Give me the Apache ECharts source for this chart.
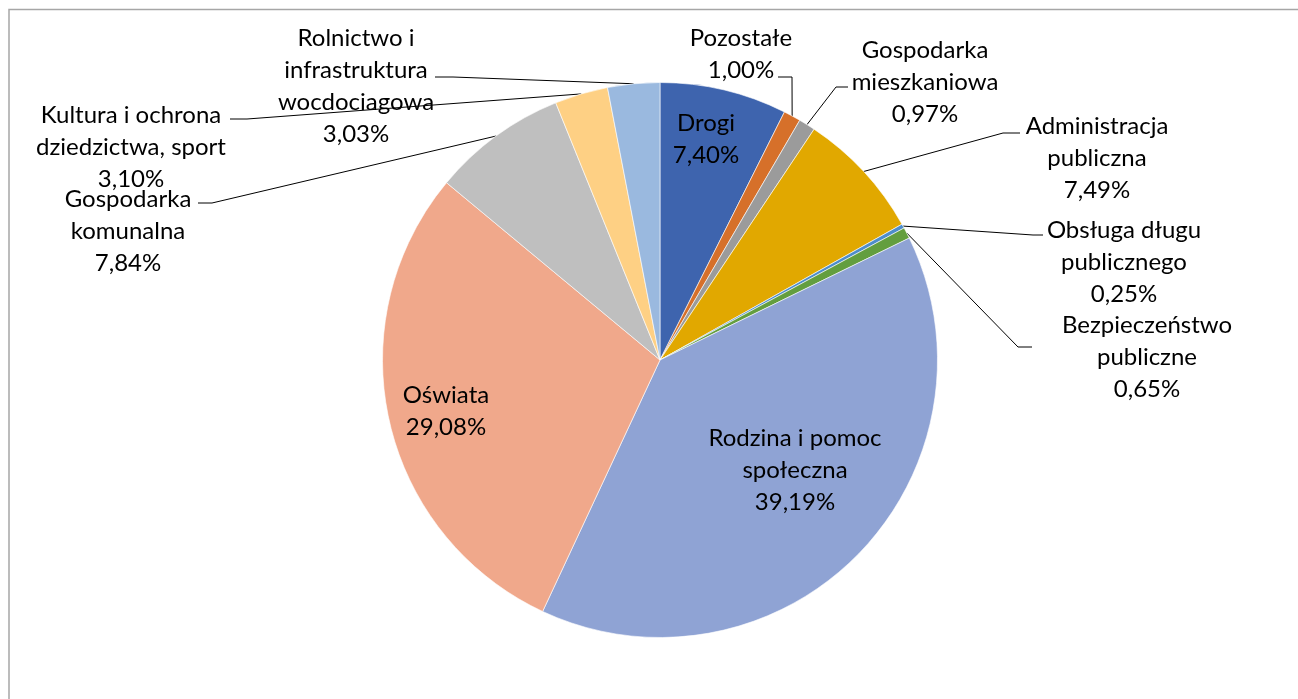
<!DOCTYPE html>
<html>
<head>
<meta charset="utf-8">
<script src="https://cdn.jsdelivr.net/npm/echarts@6/dist/echarts.min.js"></script>
<style>
  html, body { margin: 0; padding: 0; background: #fff; }
  #chart { width: 1298px; height: 699px; }
</style>
</head>
<body>
<div id="chart"></div>
<script>
// categories, clockwise from 12 o'clock
var names = [
  "Drogi",
  "Pozostałe",
  "Gospodarka\nmieszkaniowa",
  "Administracja\npubliczna",
  "Obsługa długu\npublicznego",
  "Bezpieczeństwo\npubliczne",
  "Rodzina i pomoc\nspołeczna",
  "Oświata",
  "Gospodarka\nkomunalna",
  "Kultura i ochrona\ndziedzictwa, sport",
  "Rolnictwo i\ninfrastruktura\nwocdociagowa"
];
var shares = [7.40, 1.00, 0.97, 7.49, 0.25, 0.65, 39.19, 29.08, 7.84, 3.10, 3.03];
var colors = ["#3E64AE", "#D6702A", "#9B9B9B", "#E1A800", "#4E8DCB", "#639E3F",
              "#8FA3D4", "#F0A88B", "#BFBFBF", "#FED084", "#9AB9DF"];
// labels drawn inside the slice (no leader line)
var insideLabels = ["Drogi", "Rodzina i pomoc\nspołeczna", "Oświata"];
// label centres, as placed in the original
var labelPos = [
  [706, 139], [741, 54], [925, 82], [1097, 158], [1124, 262], [1147, 357],
  [795, 470], [446, 411], [128, 231], [131, 147], [356, 86]
];
// leader line elbow and end next to the label (start is the slice's arc midpoint)
var leaderEnds = [
  null, [[792, 77], [778, 77]], [[836, 87], [848, 87]], [[1003, 133], [1020, 133]],
  [[1033, 235], [1043, 235]], [[1018, 347], [1032, 347]], null, null,
  [[212, 203], [198, 203]], [[247, 119], [230, 119]], [[453, 77], [435, 77]]
];

var chart = echarts.init(document.getElementById("chart"));

var data = names.map(function (n, i) {
  var item = { name: n, value: shares[i], itemStyle: { color: colors[i] } };
  if (insideLabels.indexOf(n) >= 0) {
    item.label = { position: "inside" };
    item.labelLine = { show: false };
  }
  return item;
});

chart.setOption({
  animation: false,
  graphic: [
    {
      type: "rect",
      shape: { x: 9, y: 9.5, width: 1300, height: 720 },
      style: { fill: "none", stroke: "#A6A6A6", lineWidth: 1.5 },
      silent: true
    }
  ],
  series: [
    {
      type: "pie",
      center: [660, 360],
      radius: 277.5,
      startAngle: 90,
      clockwise: true,
      avoidLabelOverlap: false,
      data: data,
      itemStyle: { borderColor: "#fff", borderWidth: 0.6 },
      label: {
        show: true,
        position: "outside",
        fontFamily: "Lato",
        fontSize: 24,
        lineHeight: 32,
        color: "#000",
        align: "center",
        formatter: function (p) {
          return p.name + "\n" + p.value.toFixed(2).replace(".", ",") + "%";
        }
      },
      labelLine: {
        show: true,
        length: 20,
        length2: 10,
        lineStyle: { color: "#000", width: 1 }
      },
      labelLayout: function (p) {
        var pos = labelPos[p.dataIndex];
        var res = { x: pos[0], y: pos[1], align: "center", verticalAlign: "middle" };
        var ends = leaderEnds[p.dataIndex];
        if (ends && p.labelLinePoints) {
          res.labelLinePoints = [p.labelLinePoints[0], ends[0], ends[1]];
        }
        return res;
      }
    }
  ]
});
</script>
</body>
</html>
